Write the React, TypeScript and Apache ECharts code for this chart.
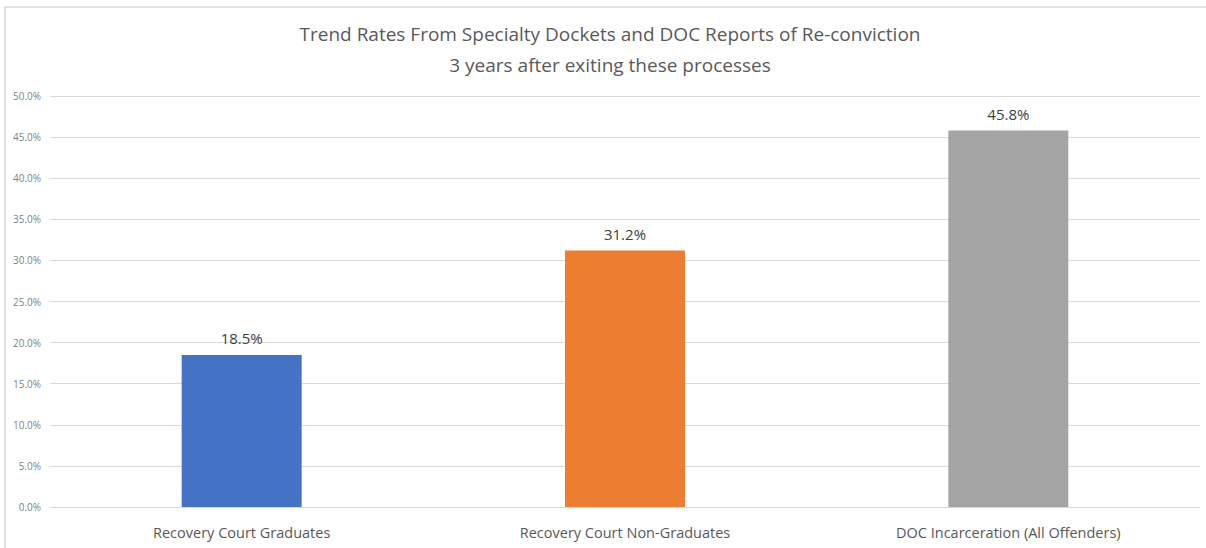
import React, { useEffect, useRef } from "react";
import * as echarts from "echarts";

const categories = [
  "Recovery Court Graduates",
  "Recovery Court Non-Graduates",
  "DOC Incarceration (All Offenders)",
];
const rates = [18.5, 31.2, 45.8];
const barColors = ["#4472C4", "#ED7D31", "#A5A5A5"];
const titleLines = [
  "Trend Rates From Specialty Dockets and DOC Reports of Re-conviction",
  "3 years after exiting these processes",
];

const FONT = "'Open Sans', 'Noto Sans', sans-serif";

export default function App() {
  const ref = useRef<HTMLDivElement>(null);

  useEffect(() => {
    if (!ref.current) return;
    const chart = echarts.init(ref.current, undefined, { renderer: "svg" });
    chart.setOption({
      animation: false,
      backgroundColor: "#ffffff",
      graphic: [
        {
          type: "rect",
          shape: { x: 5, y: 7, width: 1220, height: 560 },
          style: { fill: "none", stroke: "#d9d9d9", lineWidth: 1.5 },
          silent: true,
        },
        ...titleLines.map((t, i) => ({
          type: "text",
          x: 610,
          y: 34 + i * 31,
          silent: true,
          style: {
            text: t,
            align: "center",
            verticalAlign: "middle",
            fontFamily: FONT,
            fontSize: 19,
            fill: "#595959",
          },
        })),
      ],
      grid: { left: 50, right: 6, top: 96, bottom: 41, containLabel: false },
      xAxis: {
        type: "category",
        data: categories,
        axisLine: { show: false },
        axisTick: { show: false },
        axisLabel: {
          fontFamily: FONT,
          fontSize: 14.5,
          color: "#595959",
          margin: 18,
        },
      },
      yAxis: {
        type: "value",
        min: 0,
        max: 50,
        interval: 5,
        axisLine: { show: false },
        axisTick: { show: false },
        axisLabel: {
          fontFamily: FONT,
          fontSize: 10,
          color: "#7f7f7f",
          margin: 9,
          formatter: (v: number) => v.toFixed(1) + "%",
        },
        splitLine: { lineStyle: { color: "#d9d9d9", width: 1 } },
      },
      series: [
        {
          type: "bar",
          barWidth: "31.3%",
          data: rates.map((v, i) => ({ value: v, itemStyle: { color: barColors[i] } })),
          label: {
            show: true,
            position: "top",
            distance: 9,
            fontFamily: FONT,
            fontSize: 15,
            color: "#404040",
            formatter: (p: any) => Number(p.value).toFixed(1) + "%",
          },
        },
      ],
    });
    return () => chart.dispose();
  }, []);

  return (
    <div
      ref={ref}
      style={{ position: "absolute", left: 0, top: 0, width: 1206, height: 548 }}
    />
  );
}
